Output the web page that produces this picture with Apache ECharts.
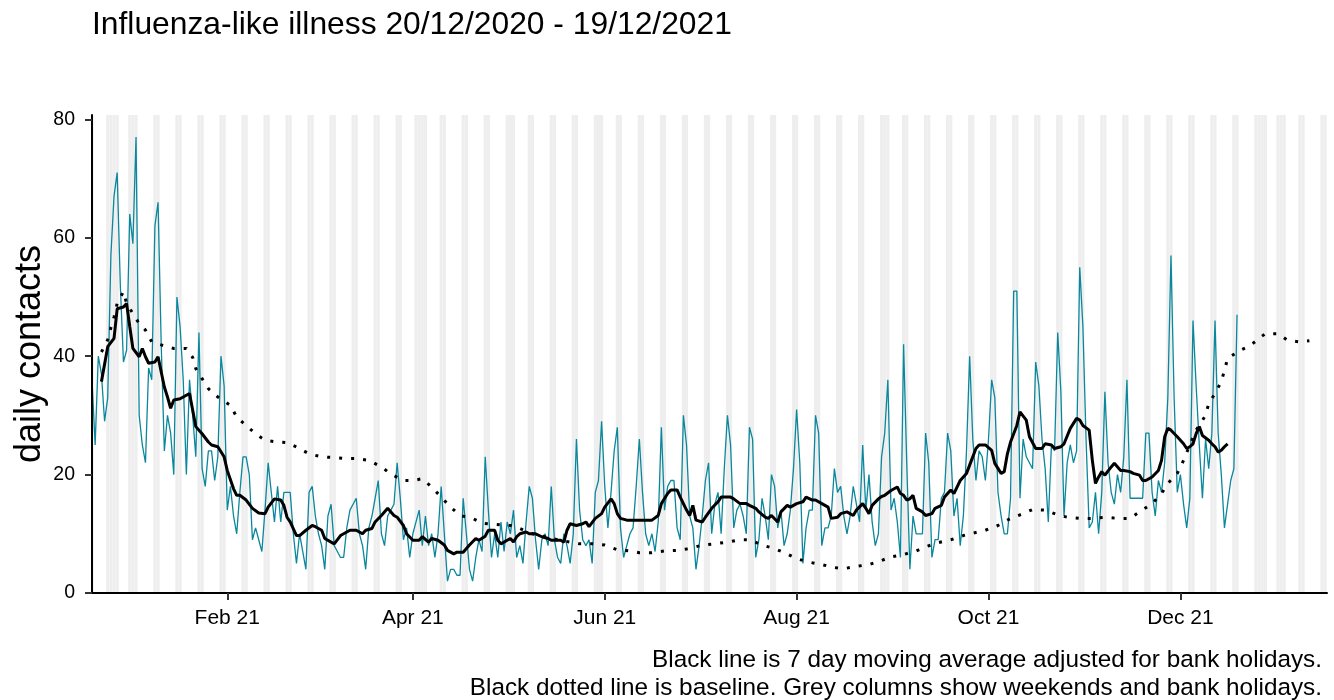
<!DOCTYPE html>
<html>
<head>
<meta charset="utf-8">
<script src="https://cdn.jsdelivr.net/npm/echarts@6/dist/echarts.min.js"></script>
<style>
html,body{margin:0;padding:0;background:#fff;}
#chart{width:1334px;height:700px;}
</style>
</head>
<body>
<div id="chart"></div>
<script>
// ---------- DATA ----------
const startDate = '2020-12-20';           // day 0 of the daily series
const axisEndDay = 392.6;                 // x axis runs a little past mid-January 2022
const titleText = 'Influenza-like illness 20/12/2020 - 19/12/2021';
const yAxisTitle = 'daily contacts';
const footnoteLines = [
  'Black line is 7 day moving average adjusted for bank holidays.',
  'Black dotted line is baseline. Grey columns show weekends and bank holidays.'
];

// daily contacts, one value per day from 20/12/2020 to 19/12/2021
const dailyValues = [
  36, 25, 40, 37, 29, 33, 57, 67, 71, 52,
  39, 41, 64, 59, 77, 30, 25, 22, 38, 36,
  62, 66, 42, 24, 30, 27, 20, 50, 45, 36,
  20, 36, 30, 23, 44, 21, 18, 24, 24, 19,
  23, 40, 35, 14, 18, 13, 10, 17, 23, 23,
  20, 9, 11, 9, 7, 14, 22, 17, 12, 18,
  12, 17, 17, 17, 10, 5, 10, 7, 4, 17,
  18, 13, 10, 8, 4, 13, 15, 8, 7, 6,
  6, 11, 14, 15, 16, 10, 8, 4, 11, 13,
  16, 19, 10, 8, 13, 14, 15, 22, 16, 9,
  11, 6, 10, 12, 14, 8, 13, 8, 10, 6,
  10, 18, 10, 2, 4, 4, 3, 3, 16, 10,
  4, 2, 6, 9, 7, 23, 14, 6, 10, 6,
  12, 7, 12, 10, 14, 6, 8, 5, 12, 18,
  16, 9, 4, 9, 10, 8, 18, 9, 6, 5,
  10, 8, 5, 10, 26, 14, 9, 8, 9, 5,
  17, 19, 29, 18, 11, 17, 24, 28, 11, 6,
  8, 10, 11, 18, 26, 17, 10, 8, 10, 7,
  12, 28, 14, 18, 19, 19, 11, 9, 30, 25,
  13, 11, 4, 8, 13, 19, 22, 10, 15, 17,
  10, 21, 30, 25, 11, 14, 15, 13, 10, 28,
  26, 6, 9, 16, 13, 9, 20, 18, 11, 14,
  8, 10, 14, 21, 31, 22, 5, 11, 14, 14,
  30, 27, 8, 11, 11, 13, 21, 17, 18, 13,
  10, 13, 18, 15, 12, 25, 14, 20, 12, 8,
  10, 23, 27, 36, 14, 16, 12, 6, 42, 22,
  4, 13, 10, 10, 10, 27, 22, 6, 9, 9,
  16, 17, 27, 24, 13, 16, 8, 13, 24, 40,
  26, 19, 24, 23, 19, 26, 36, 33, 17, 13,
  10, 10, 16, 51, 51, 16, 26, 23, 22, 21,
  39, 35, 26, 21, 12, 25, 24, 44, 34, 13,
  22, 25, 22, 24, 55, 45, 26, 11, 12, 17,
  10, 17, 34, 22, 17, 15, 20, 17, 23, 36,
  16, 16, 16, 16, 16, 27, 27, 17, 13, 19,
  17, 22, 33, 57, 33, 17, 20, 15, 11, 16,
  46, 35, 25, 16, 26, 21, 27, 46, 27, 20,
  11, 15, 19, 21, 47
];

// 7 day moving average (day offset, value)
const movingAvgDays = [3,5,7,8,10,11,12,13,15,16,17,18,20,21,23,24,25,26,28,29,31,32,33,35,37,38,40,42,43,45,46,47,49,51,53,55,56,58,60,61,62,63,65,66,68,70,71,73,74,77,79,81,82,84,86,87,89,90,92,94,96,97,99,100,102,104,105,107,108,110,112,113,115,116,118,120,122,123,125,126,128,129,130,132,133,134,135,136,138,139,141,143,145,146,148,149,150,151,152,154,156,157,158,160,162,163,165,166,167,168,170,172,173,175,176,178,180,181,183,184,186,187,189,190,191,192,194,195,197,199,200,201,203,204,206,208,209,211,212,214,215,216,218,219,221,222,224,226,227,229,230,232,234,235,237,238,240,242,243,245,246,247,248,250,251,252,254,255,256,257,258,259,260,261,262,264,265,267,268,270,271,273,274,276,278,279,281,282,284,286,287,289,290,291,292,294,295,297,298,300,302,303,305,306,308,309,311,313,314,315,317,318,319,320,321,322,324,325,327,328,330,331,333,334,335,337,339,340,341,342,343,345,347,348,349,350,351,352,353,355,356,357,358,359,360,361];
const movingAvgValues = [35.7,41.6,43,48,48.3,48.9,45,41.3,39.9,41.3,39.9,38.8,39,39.9,34.8,33.1,31.2,32.6,32.8,33.1,33.7,30.9,28.1,26.9,25.5,25,24.7,23,20.7,17.6,16.5,16.5,15.7,14.3,13.5,13.4,14.5,15.9,15.7,14.8,12.8,12,9.7,9.7,10.6,11.4,11.2,10.6,9.2,8.3,9.7,10.3,10.6,10.6,10,10.6,10.9,12,13.1,14.3,13.1,12.8,11.4,10,8.9,8.9,9.5,8.6,9.2,8.9,8.1,7.2,6.6,6.9,6.9,8.1,9.2,8.9,9.6,10.6,10.6,8.9,8.3,8.9,9.2,8.6,9.5,10,10.3,10,10,9.5,9.2,8.9,8.9,8.9,8.6,10.6,11.7,11.4,11.7,12,11.2,12.6,13.4,14.5,15.9,15.1,13.4,12.6,12.3,12.3,12.3,12.3,12.3,12.3,13.1,15.1,16.8,17.4,17.4,16.2,14,13.1,14.8,12.3,12,12.8,14.3,15.4,16.2,16.2,16.2,15.9,15.1,15.1,14.8,14.3,13.7,12.8,12.6,13.1,12,13.7,14.8,14.5,15.1,15.4,16.2,15.7,15.7,15.1,14.5,12.6,12.8,13.4,13.7,13.1,14,15.1,14.3,13.4,14.8,15.9,16.3,16.5,17.3,17.6,17.9,16.8,16.5,15.7,15.9,16.5,14.3,13.7,13.1,13.4,14.3,14.8,16.2,17.4,16.8,19,20.2,21.6,24.4,25,25,24.1,21.9,20.2,20.5,23.5,25.5,28.3,30.6,29.2,26.4,24.4,24.4,25.2,25,24.4,24.7,25.2,27.8,29.5,29.2,28.3,27.5,22.4,18.5,19.6,20.5,19.9,21.3,21.9,20.7,20.7,20.5,20.2,19.9,19,19,19.6,20.7,22.4,26.4,27.8,27.5,26.4,25.2,24.4,24.7,25.2,26.9,28.1,26.6,25.8,25.2,24.7,23.8,24.1,24.7,25.2];

// baseline (day offset, value)
const baselineDays = [3,5,6,7,8,10,11,13,15,17,19,22,26,30,32,33,35,37,40,44,46,49,52,55,59,62,66,69,73,76,81,84,88,92,95,99,102,105,108,111,114,117,121,124,128,133,136,140,144,148,152,155,159,163,167,171,174,178,182,186,190,194,198,202,206,209,213,217,221,224,228,232,236,239,243,247,251,254,258,262,265,269,273,277,280,284,288,292,296,299,303,307,310,314,318,322,326,330,333,337,340,342,345,347,349,351,354,355,357,359,360,361,365,368,371,373,377,380,384,387];
const baselineValues = [40.7,42.8,44.8,46.6,48.9,50.9,48.9,47.2,45.5,44.4,42.4,41.9,41.3,41.3,39.8,37.9,36.2,34.5,33.1,31.7,29.7,28.3,26.9,25.8,25.5,25.4,24.4,23.5,23,22.9,22.7,22.7,22.4,21.3,20.1,19,19,19.3,17.9,16.2,14.5,13.1,12.6,11.8,11.6,11.4,10.9,10,9.5,9,8.6,8.3,8.3,8.1,7.3,7.1,6.8,6.8,7.1,7.2,7.5,8.1,8.3,8.6,9,9,8.1,7.5,6.6,5.8,5.2,4.8,4.3,4.1,4.5,4.8,5.5,6.1,6.5,7.1,7.8,8.5,9,9.7,10.1,10.6,11.4,12.6,13.4,14.1,14,13.2,12.8,12.6,12.6,12.8,12.6,12.6,13.7,15.1,16.8,18.5,20.2,22.4,25,27.5,30,32,33.7,35.7,37.6,39.6,41,41.7,43,43.8,43.8,42.7,42.4,42.6];

// bank holidays shaded with the weekends
const bankHolidays = ['2020-12-25','2020-12-28','2021-01-01','2021-04-02','2021-04-05','2021-05-03','2021-05-31','2021-08-30','2021-12-27','2021-12-28','2022-01-03'];

// axis ticks
const xTickDates = ['2021-02-01','2021-04-01','2021-06-01','2021-08-01','2021-10-01','2021-12-01'];
const xTickLabels = ['Feb 21','Apr 21','Jun 21','Aug 21','Oct 21','Dec 21'];
const yTickValues = [0, 20, 40, 60, 80];

// ---------- BUILD ----------
const DAY = 86400000;
const FONT = '"Liberation Sans", Arial, sans-serif';
const t0 = Date.parse(startDate + 'T00:00:00Z');
const xMin = t0;
const xMax = t0 + axisEndDay * DAY;
const dayTime = d => t0 + d * DAY;

const dailyData = dailyValues.map((v, i) => [dayTime(i), v]);
const maData = movingAvgDays.map((d, i) => [dayTime(d), movingAvgValues[i]]);
const baseData = baselineDays.map((d, i) => [dayTime(d), baselineValues[i]]);

const holidaySet = new Set(bankHolidays.map(s => Date.parse(s + 'T00:00:00Z')));
const greyAreas = [];
for (let d = 0; d <= Math.ceil(axisEndDay); d++) {
  const t = dayTime(d);
  const wd = new Date(t).getUTCDay();
  if (wd === 0 || wd === 6 || holidaySet.has(t)) {
    const a = Math.max(xMin, t - DAY / 2);
    const b = Math.min(xMax, t + DAY / 2);
    if (b > a) greyAreas.push([{ xAxis: a }, { xAxis: b }]);
  }
}

const xTickTimes = xTickDates.map(s => Date.parse(s + 'T00:00:00Z'));
function xLabel(val) {
  let best = 0, bd = Infinity;
  xTickTimes.forEach((t, i) => { const dd = Math.abs(t - val); if (dd < bd) { bd = dd; best = i; } });
  return xTickLabels[best];
}

const chart = echarts.init(document.getElementById('chart'), null, { renderer: 'canvas' });
const option = {
  animation: false,
  backgroundColor: '#ffffff',
  textStyle: { fontFamily: FONT },
  grid: { left: 92, right: 7, top: 115, bottom: 107, containLabel: false, outerBoundsMode: 'none' },
  xAxis: {
    type: 'value',
    min: xMin,
    max: xMax,
    scale: true,
    z: 10,
    axisLine: { show: true, onZero: false, lineStyle: { color: '#000', width: 2 } },
    axisTick: { show: true, customValues: xTickTimes, length: 7, lineStyle: { color: '#333', width: 2 } },
    axisLabel: { customValues: xTickTimes, formatter: xLabel, fontSize: 21, color: '#000', fontFamily: FONT, margin: 15, hideOverlap: false },
    splitLine: { show: false },
    minorTick: { show: false }
  },
  yAxis: {
    type: 'value',
    min: 0,
    max: 80.73,
    z: 10,
    axisLine: { show: true, lineStyle: { color: '#000', width: 2 } },
    axisTick: { show: true, customValues: yTickValues, length: 7, lineStyle: { color: '#333', width: 2 } },
    axisLabel: { customValues: yTickValues, fontSize: 19.5, color: '#000', fontFamily: FONT, margin: 17 },
    splitLine: { show: false }
  },
  graphic: [
    { type: 'text', x: 92, y: 25.5, silent: true,
      style: { text: titleText, font: '31.8px ' + FONT, fill: '#000', align: 'left', verticalAlign: 'middle' } },
    { type: 'text', x: 30.5, y: 354, rotation: Math.PI / 2, silent: true,
      style: { text: yAxisTitle, font: '36px ' + FONT, fill: '#000', align: 'center', verticalAlign: 'middle' } },
    { type: 'text', x: 1322, y: 660, silent: true,
      style: { text: footnoteLines[0], font: '24.3px ' + FONT, fill: '#000', align: 'right', verticalAlign: 'middle' } },
    { type: 'text', x: 1322, y: 688, silent: true,
      style: { text: footnoteLines[1], font: '24.3px ' + FONT, fill: '#000', align: 'right', verticalAlign: 'middle' } }
  ],
  series: [
    {
      name: 'daily', type: 'line', data: dailyData, symbol: 'none', showSymbol: false, z: 2,
      lineStyle: { color: '#0a879c', width: 1.3 },
      markArea: { silent: true, z: 1, itemStyle: { color: '#eeeeee', borderWidth: 0 }, data: greyAreas }
    },
    {
      name: 'moving average', type: 'line', data: maData, symbol: 'none', showSymbol: false, z: 3,
      lineStyle: { color: '#000', width: 3 }
    },
    {
      name: 'baseline', type: 'line', data: baseData, symbol: 'none', showSymbol: false, z: 4,
      lineStyle: { color: '#000', width: 3, type: [3, 9], cap: 'butt' }
    }
  ]
};
chart.setOption(option);
</script>
</body>
</html>
